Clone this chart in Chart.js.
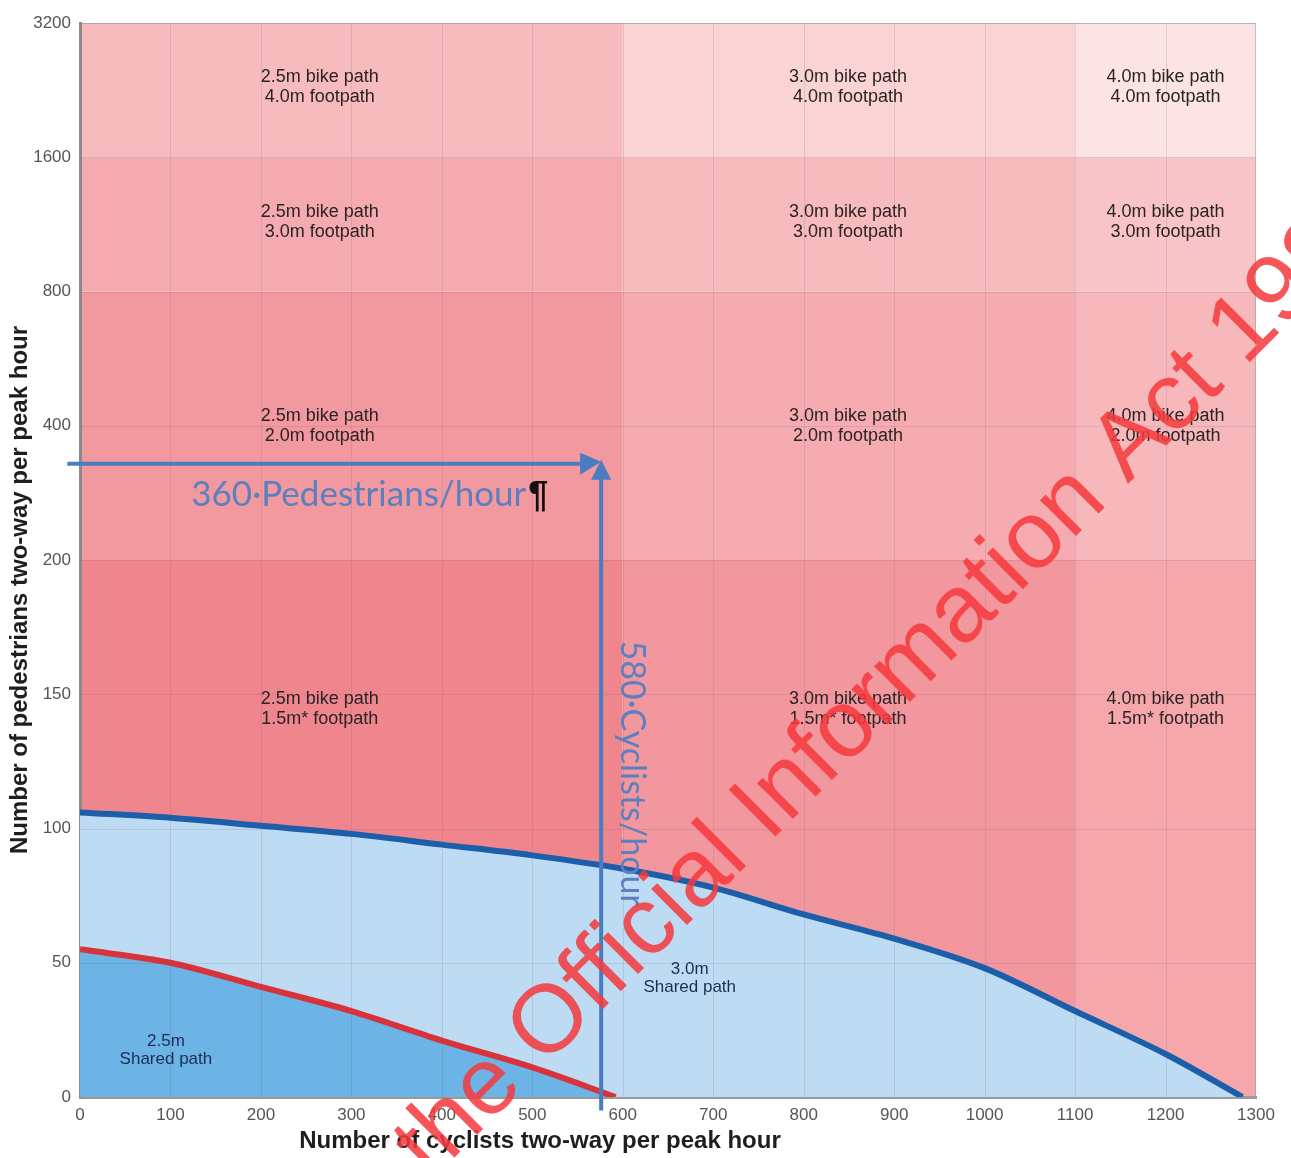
<!DOCTYPE html>
<html>
<head>
<meta charset="utf-8">
<script src="https://cdn.jsdelivr.net/npm/chart.js@4.4.1/dist/chart.umd.min.js"></script>
<style>
  html, body { margin: 0; padding: 0; background: #fff; }
  #wrap { width: 1291px; height: 1158px; }
</style>
</head>
<body>
<div id="wrap"><canvas id="chart" width="1291" height="1158"></canvas></div>
<script>
// y axis is not linear: every tick gets the same height
const yTickValues = [0, 50, 100, 150, 200, 400, 800, 1600, 3200];
const yTickLabels = ['0', '50', '100', '150', '200', '400', '800', '1600', '3200'];

// zone boundaries
const cyclistBands = [0, 600, 1100, 1300];
const pedestrianBands = [0, 200, 800, 1600, 3200];
const bikePaths = ['2.5m bike path', '3.0m bike path', '4.0m bike path'];
const footpaths = ['1.5m* footpath', '2.0m footpath', '3.0m footpath', '4.0m footpath'];

// 3.0m shared path limit (blue curve)
const cyclists3m = [0, 100, 200, 300, 400, 500, 600, 700, 800, 900, 1000, 1100, 1200, 1285];
const pedestrians3m = [106, 104, 101, 98, 94, 90, 85, 78, 68, 59, 48, 32, 16, 0];

// 2.5m shared path limit (red curve)
const cyclists25m = [0, 100, 200, 300, 400, 500, 592];
const pedestrians25m = [55, 50, 41, 32, 21, 11, 0];

// worked example
const exampleCyclists = 575;
const examplePedestrians = 348;
const exampleCyclistsLabel = '580·Cyclists/hour';
const examplePedestriansLabel = '360·Pedestrians/hour';

// cell colours [pedestrian band][cyclist band]
const cellColors = [
  ['#ef868e', '#f3979e', '#f5a7ac'],
  ['#f2989f', '#f5abb0', '#f7b8bc'],
  ['#f5aaaf', '#f7babd', '#f8c4c7'],
  ['#f7babd', '#fad3d4', '#fce4e4']
];
// where the cell captions sit (x in cyclists, y in axis steps)
const captionX = [265, 849, 1200];
const captionRow = [2.89, 5.0, 6.52, 7.52];

function toAxis(v) {
  if (v <= 0) return v / 50;
  for (let i = 0; i < yTickValues.length - 1; i++) {
    const a = yTickValues[i], b = yTickValues[i + 1];
    if (v <= b) return i + (v - a) / (b - a);
  }
  return yTickValues.length - 1;
}

const FONT = '"Liberation Sans", Arial, sans-serif';

const zonePlugin = {
  id: 'zones',
  beforeDraw(chart) {
    const { ctx, scales: { x, y } } = chart;
    ctx.save();
    for (let r = 0; r < pedestrianBands.length - 1; r++) {
      for (let c = 0; c < cyclistBands.length - 1; c++) {
        const x0 = x.getPixelForValue(cyclistBands[c]);
        const x1 = x.getPixelForValue(cyclistBands[c + 1]);
        const y0 = y.getPixelForValue(toAxis(pedestrianBands[r]));
        const y1 = y.getPixelForValue(toAxis(pedestrianBands[r + 1]));
        ctx.fillStyle = cellColors[r][c];
        ctx.fillRect(x0, y1, x1 - x0, y0 - y1);
      }
    }
    ctx.restore();
  },
  afterDatasetsDraw(chart) {
    const { ctx, chartArea: area, scales: { x, y } } = chart;
    ctx.save();

    // grid
    ctx.strokeStyle = 'rgba(110,90,110,0.16)';
    ctx.lineWidth = 1;
    for (let v = 100; v < 1300; v += 100) {
      const px = Math.round(x.getPixelForValue(v)) + 0.5;
      ctx.beginPath(); ctx.moveTo(px, area.top); ctx.lineTo(px, area.bottom); ctx.stroke();
    }
    for (let i = 1; i < yTickValues.length; i++) {
      const py = Math.round(y.getPixelForValue(i)) + 0.5;
      ctx.beginPath(); ctx.moveTo(area.left, py); ctx.lineTo(area.right, py); ctx.stroke();
    }
    ctx.strokeStyle = 'rgba(150,150,150,0.5)';
    ctx.beginPath(); ctx.moveTo(area.left, area.top + 0.5); ctx.lineTo(area.right, area.top + 0.5); ctx.stroke();
    ctx.beginPath(); ctx.moveTo(area.right - 0.5, area.top); ctx.lineTo(area.right - 0.5, area.bottom); ctx.stroke();

    // cell captions
    ctx.fillStyle = '#2a2424';
    ctx.font = '18px ' + FONT;
    ctx.textAlign = 'center';
    ctx.textBaseline = 'middle';
    for (let r = 0; r < footpaths.length; r++) {
      for (let c = 0; c < bikePaths.length; c++) {
        const cx = x.getPixelForValue(captionX[c]);
        const cy = y.getPixelForValue(captionRow[r]);
        ctx.fillText(bikePaths[c], cx, cy - 10);
        ctx.fillText(footpaths[r], cx, cy + 10);
      }
    }

    // shared path captions
    ctx.fillStyle = '#1c2d52';
    ctx.font = '17px ' + FONT;
    [[95, 0.35, '2.5m'], [674, 0.886, '3.0m']].forEach(([cx, cy, w]) => {
      const px = x.getPixelForValue(cx), py = y.getPixelForValue(cy);
      ctx.fillText(w, px, py - 9);
      ctx.fillText('Shared path', px, py + 9);
    });

    // worked example arrows
    const ax = x.getPixelForValue(exampleCyclists);
    const ay = y.getPixelForValue(toAxis(examplePedestrians));
    const startX = x.getPixelForValue(-14);
    const startY = y.getPixelForValue(toAxis(-5));
    const blue = '#4a7cc0';
    ctx.strokeStyle = blue;
    ctx.fillStyle = blue;
    ctx.lineWidth = 4;
    ctx.beginPath(); ctx.moveTo(startX, ay + 3); ctx.lineTo(ax - 16, ay + 3); ctx.stroke();
    ctx.beginPath(); ctx.moveTo(ax - 20, ay - 8); ctx.lineTo(ax + 1, ay + 1); ctx.lineTo(ax - 20, ay + 14); ctx.closePath(); ctx.fill();
    ctx.beginPath(); ctx.moveTo(ax + 1, startY); ctx.lineTo(ax + 1, ay + 16); ctx.stroke();
    ctx.beginPath(); ctx.moveTo(ax - 9, ay + 19); ctx.lineTo(ax + 1, ay - 1); ctx.lineTo(ax + 11, ay + 19); ctx.closePath(); ctx.fill();

    ctx.font = '35px Lato, "Open Sans", sans-serif';
    ctx.textAlign = 'left';
    ctx.textBaseline = 'alphabetic';
    ctx.fillStyle = '#5b7fc0';
    const tx = x.getPixelForValue(123);
    ctx.fillText(examplePedestriansLabel, tx, ay + 45);
    const tw = ctx.measureText(examplePedestriansLabel).width;
    ctx.fillStyle = '#111';
    ctx.font = 'bold 36px "Liberation Sans", Arial, sans-serif';
    ctx.fillText('¶', tx + tw + 2, ay + 46);

    ctx.save();
    ctx.translate(ax + 21, y.getPixelForValue(3.4));
    ctx.rotate(Math.PI / 2);
    ctx.fillStyle = '#5b7fc0';
    ctx.font = '34px Lato, "Open Sans", sans-serif';
    ctx.fillText(exampleCyclistsLabel, 0, 0);
    ctx.restore();

    // axis titles
    ctx.fillStyle = '#1e1e1e';
    ctx.font = 'bold 24px ' + FONT;
    ctx.textAlign = 'center';
    ctx.textBaseline = 'middle';
    ctx.fillText('Number of cyclists two-way per peak hour', 540, 1141);
    ctx.save();
    ctx.translate(20, 590);
    ctx.rotate(-Math.PI / 2);
    ctx.fillText('Number of pedestrians two-way per peak hour', 0, 0);
    ctx.restore();

    // watermark
    ctx.save();
    ctx.translate(431, 1181);
    ctx.rotate(-Math.PI / 4);
    ctx.font = '96px ' + FONT;
    ctx.textAlign = 'left';
    ctx.textBaseline = 'alphabetic';
    ctx.fillStyle = 'rgba(244,58,62,0.86)';
    ctx.fillText('the Official Information Act 1982', 0, 0);
    ctx.restore();

    ctx.restore();
  }
};

const ctx = document.getElementById('chart').getContext('2d');
new Chart(ctx, {
  type: 'line',
  data: {
    datasets: [
      {
        label: '2.5m shared path',
        data: cyclists25m.map((c, i) => ({ x: c, y: toAxis(pedestrians25m[i]) })),
        borderColor: '#d8323b',
        borderWidth: 6,
        backgroundColor: '#6cb3e6',
        fill: 'origin',
        pointRadius: 0,
        cubicInterpolationMode: 'monotone',
        order: 1
      },
      {
        label: '3.0m shared path',
        data: cyclists3m.map((c, i) => ({ x: c, y: toAxis(pedestrians3m[i]) })),
        borderColor: '#1c5ea9',
        borderWidth: 6,
        backgroundColor: '#bddcf3',
        fill: 'origin',
        pointRadius: 0,
        cubicInterpolationMode: 'monotone',
        order: 2
      }
    ]
  },
  options: {
    responsive: false,
    animation: false,
    layout: { padding: { top: 23, right: 35, left: 0, bottom: 0 } },
    plugins: { legend: { display: false }, tooltip: { enabled: false } },
    scales: {
      x: {
        type: 'linear',
        min: 0,
        max: 1300,
        ticks: {
          stepSize: 100,
          color: '#555',
          font: { size: 17, family: FONT },
          padding: 0,
          maxRotation: 0,
          callback: (v) => String(v)
        },
        grid: { display: false },
        border: { display: true, color: '#9a9a9a', width: 3 },
        afterFit: (s) => { s.height = 61; }
      },
      y: {
        type: 'linear',
        min: 0,
        max: 8,
        ticks: {
          stepSize: 1,
          color: '#555',
          font: { size: 17, family: FONT },
          padding: 1,
          callback: (v) => yTickLabels[v]
        },
        grid: { display: false },
        border: { display: true, color: '#8a8a8a', width: 3 },
        afterFit: (s) => { s.width = 80; }
      }
    }
  },
  plugins: [zonePlugin]
});
</script>
</body>
</html>
